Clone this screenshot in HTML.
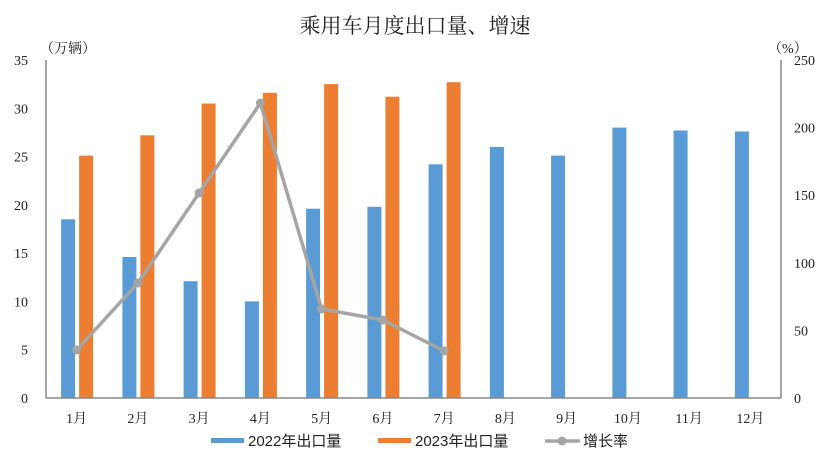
<!DOCTYPE html>
<html><head><meta charset="utf-8"><style>
body{margin:0;background:#fff;}
svg{display:block;}
.t{font-family:"Liberation Serif","Noto Serif CJK SC",serif;font-size:14px;fill:#222;}
.l{font-family:"Liberation Sans","Noto Sans CJK SC",sans-serif;font-size:15px;fill:#222;}
</style></head><body>
<svg width="829" height="466" xmlns="http://www.w3.org/2000/svg">
<rect width="829" height="466" fill="#fff"/>
<text x="415" y="33" text-anchor="middle" style="font-family:'Noto Serif CJK SC',serif;font-size:21px;fill:#222">乘用车月度出口量、增速</text>
<text class="t" x="40" y="53">（万辆）</text>
<text class="t" x="768" y="53">（%）</text>
<g fill="#5b9bd5">
<rect x="61.1" y="219.3" width="14" height="178.7"/>
<rect x="122.4" y="257.0" width="14" height="141.0"/>
<rect x="183.6" y="281.2" width="14" height="116.8"/>
<rect x="244.9" y="301.4" width="14" height="96.6"/>
<rect x="306.1" y="208.7" width="14" height="189.3"/>
<rect x="367.4" y="206.8" width="14" height="191.2"/>
<rect x="428.6" y="164.3" width="14" height="233.7"/>
<rect x="489.9" y="146.9" width="14" height="251.1"/>
<rect x="551.1" y="155.6" width="14" height="242.4"/>
<rect x="612.4" y="127.6" width="14" height="270.4"/>
<rect x="673.6" y="130.5" width="14" height="267.5"/>
<rect x="734.9" y="131.5" width="14" height="266.5"/>
</g>
<g fill="#ed7d31">
<rect x="79.1" y="155.6" width="14" height="242.4"/>
<rect x="140.4" y="135.3" width="14" height="262.7"/>
<rect x="201.6" y="103.5" width="14" height="294.5"/>
<rect x="262.9" y="92.8" width="14" height="305.2"/>
<rect x="324.1" y="84.1" width="14" height="313.9"/>
<rect x="385.4" y="96.7" width="14" height="301.3"/>
<rect x="446.6" y="82.2" width="14" height="315.8"/>
</g>
<line x1="46" y1="60" x2="46" y2="398" stroke="#888" stroke-width="1.5"/>
<line x1="781" y1="60" x2="781" y2="398" stroke="#888" stroke-width="1.5"/>
<line x1="46" y1="398" x2="781" y2="398" stroke="#888" stroke-width="1.5"/>
<g class="t" text-anchor="end">
<text x="28" y="403">0</text>
<text x="28" y="354.7">5</text>
<text x="28" y="306.4">10</text>
<text x="28" y="258.1">15</text>
<text x="28" y="209.9">20</text>
<text x="28" y="161.6">25</text>
<text x="28" y="113.3">30</text>
<text x="28" y="65">35</text>
</g>
<g class="t">
<text x="794" y="403">0</text>
<text x="794" y="335.4">50</text>
<text x="794" y="267.8">100</text>
<text x="794" y="200.2">150</text>
<text x="794" y="132.6">200</text>
<text x="794" y="65">250</text>
</g>
<g class="t" text-anchor="middle">
<text x="76.6" y="423">1月</text>
<text x="137.9" y="423">2月</text>
<text x="199.1" y="423">3月</text>
<text x="260.4" y="423">4月</text>
<text x="321.6" y="423">5月</text>
<text x="382.9" y="423">6月</text>
<text x="444.1" y="423">7月</text>
<text x="505.4" y="423">8月</text>
<text x="566.6" y="423">9月</text>
<text x="627.9" y="423">10月</text>
<text x="689.1" y="423">11月</text>
<text x="750.4" y="423">12月</text>
</g>
<polyline points="76.6,350 137.9,283 199.1,193 260.4,103 321.6,309 382.9,320 444.1,351" fill="none" stroke="#a5a5a5" stroke-width="3.5"/>
<g fill="#a5a5a5">
<circle cx="76.6" cy="350" r="4.5"/><circle cx="137.9" cy="283" r="4.5"/><circle cx="199.1" cy="193" r="4.5"/><circle cx="260.4" cy="103" r="4.5"/><circle cx="321.6" cy="309" r="4.5"/><circle cx="382.9" cy="320" r="4.5"/><circle cx="444.1" cy="351" r="4.5"/>
</g>
<rect x="211" y="438" width="33" height="5" fill="#5b9bd5"/>
<text class="l" x="248" y="446">2022年出口量</text>
<rect x="378" y="438" width="33" height="5" fill="#ed7d31"/>
<text class="l" x="415" y="446">2023年出口量</text>
<line x1="545" y1="441" x2="580" y2="441" stroke="#a5a5a5" stroke-width="3.5"/>
<circle cx="562" cy="441" r="4.5" fill="#a5a5a5"/>
<text class="l" x="583" y="446">增长率</text>
</svg>
</body></html>
